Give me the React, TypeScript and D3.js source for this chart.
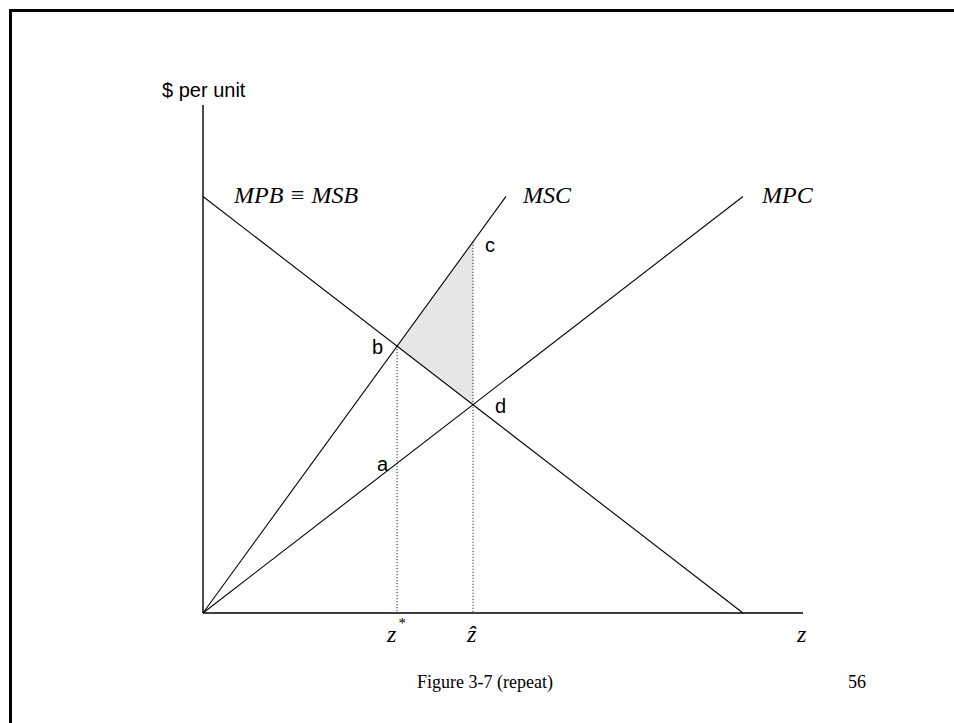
import React from "react";
import * as d3 from "d3";

// Curve endpoints in abstract units (quantity 0..100, price 0..100)
const curveNames = ["MPB", "MSC", "MPC"];
const curveStartX = [0, 0, 0];
const curveStartY = [82, 0, 0];
const curveEndX = [90, 50.5, 90];
const curveEndY = [0, 82, 82];
const curveLabels = ["MPB ≡ MSB", "MSC", "MPC"];

const axisXLabel = "z";
const axisYLabel = "$ per unit";
const footerText = "Figure 3-7 (repeat)";
const pageNumber = "56";

const W = 954;
const H = 723;

export default function App() {
  const x = d3.scaleLinear().domain([0, 100]).range([203, 803]);
  const y = d3.scaleLinear().domain([0, 100]).range([613, 105]);

  const slope = (i: number) =>
    (curveEndY[i] - curveStartY[i]) / (curveEndX[i] - curveStartX[i]);
  const at = (i: number, q: number) =>
    curveStartY[i] + slope(i) * (q - curveStartX[i]);
  const intersect = (i: number, j: number) => {
    const q =
      (curveStartY[j] - slope(j) * curveStartX[j] - (curveStartY[i] - slope(i) * curveStartX[i])) /
      (slope(i) - slope(j));
    return [q, at(i, q)];
  };

  const [qStar, pB] = intersect(0, 1); // b
  const [qHat, pD] = intersect(0, 2); // d
  const pC = at(1, qHat);
  const pA = at(2, qStar);

  const line = d3
    .line<[number, number]>()
    .x((d) => x(d[0]))
    .y((d) => y(d[1]));

  const tri: [number, number][] = [
    [qStar, pB],
    [qHat, pC],
    [qHat, pD],
  ];

  const serif = "'Liberation Serif', 'Times New Roman', serif";
  const sans = "'Liberation Sans', Arial, sans-serif";

  return (
    <svg
      width={W}
      height={H}
      style={{ position: "absolute", left: 0, top: 0, display: "block", background: "#fff" }}
    >
      {/* frame */}
      <path d={`M10.5,${H + 10} V10.5 H${W + 10}`} fill="none" stroke="#000" strokeWidth={3} />

      {/* shaded triangle */}
      <path d={line(tri) + "Z"} fill="#e6e6e6" stroke="none" />

      {/* axes */}
      <line x1={x(0)} y1={y(0)} x2={x(0)} y2={y(100)} stroke="#000" strokeWidth={1.4} />
      <line x1={x(0)} y1={y(0)} x2={x(100)} y2={y(0)} stroke="#000" strokeWidth={1.4} />

      {/* curves */}
      {curveNames.map((n, i) => (
        <path
          key={n}
          d={line([
            [curveStartX[i], curveStartY[i]],
            [curveEndX[i], curveEndY[i]],
          ]) as string}
          fill="none"
          stroke="#000"
          strokeWidth={1.1}
        />
      ))}

      {/* dotted drop lines */}
      <line x1={x(qStar)} y1={y(pB)} x2={x(qStar)} y2={y(0)} stroke="#000" strokeWidth={1} strokeDasharray="1,2" />
      <line x1={x(qHat)} y1={y(pC)} x2={x(qHat)} y2={y(0)} stroke="#000" strokeWidth={1} strokeDasharray="1,2" />

      {/* curve labels */}
      <g fontFamily={serif} fontStyle="italic" fontSize={24}>
        <text x={234} y={203}>{curveLabels[0]}</text>
        <text x={523} y={203}>{curveLabels[1]}</text>
        <text x={762} y={203}>{curveLabels[2]}</text>
        <text x={x(100) - 6} y={642}>{axisXLabel}</text>
        <text x={x(qStar) - 10} y={642}>
          z<tspan fontStyle="normal" fontSize={15} dx={2} dy={-14}>*</tspan>
        </text>
        <text x={x(qHat) - 6} y={642}>ẑ</text>
      </g>

      {/* point labels */}
      <g fontFamily={sans} fontSize={20}>
        <text x={162} y={97}>{axisYLabel}</text>
        <text x={x(qStar) - 25} y={y(pB) + 8}>b</text>
        <text x={x(qStar) - 20} y={y(pA) + 8}>a</text>
        <text x={x(qHat) + 12} y={y(pC) + 10}>c</text>
        <text x={x(qHat) + 22} y={y(pD) + 8}>d</text>
      </g>

      {/* footer */}
      <g fontFamily={serif} fontSize={18}>
        <text x={417} y={688}>{footerText}</text>
        <text x={848} y={688}>{pageNumber}</text>
      </g>
    </svg>
  );
}
